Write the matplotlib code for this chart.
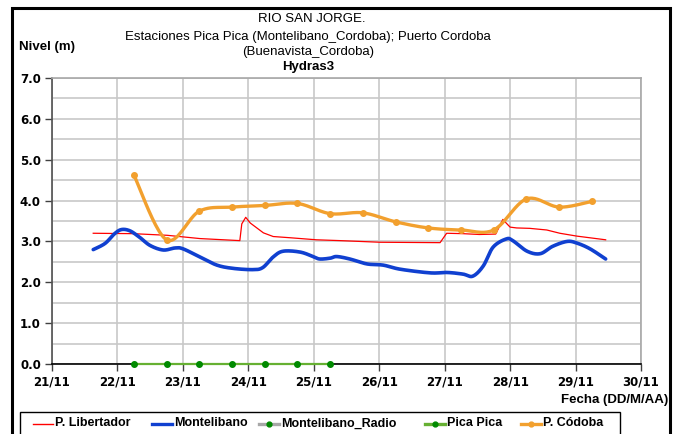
import numpy as np
import matplotlib
matplotlib.use("Agg")
import matplotlib.pyplot as plt
from matplotlib.lines import Line2D
from matplotlib.patches import Rectangle

# ---- data (days counted from 21/11 00:00) ----
day_labels = ["21/11", "22/11", "23/11", "24/11", "25/11",
              "26/11", "27/11", "28/11", "29/11", "30/11"]

libertador_t = [0.63, 1.24, 1.76, 2.26, 2.87, 2.90, 2.96, 3.03, 3.13, 3.23,
                3.38, 3.64, 4.04, 4.40, 5.01, 5.93, 6.03, 6.28, 6.53, 6.78,
                6.89, 6.94, 7.00, 7.10, 7.30, 7.56, 7.76, 8.02, 8.46]
libertador_v = [3.20, 3.19, 3.15, 3.07, 3.02, 3.43, 3.59, 3.45, 3.33, 3.21,
                3.12, 3.09, 3.04, 3.02, 2.98, 2.97, 3.20, 3.19, 3.17, 3.18,
                3.54, 3.45, 3.35, 3.33, 3.32, 3.28, 3.20, 3.13, 3.04]

montelibano_t = [0.63, 0.81, 0.95, 1.06, 1.19, 1.34, 1.50, 1.70, 1.88, 2.00,
                 2.26, 2.52, 2.77, 3.07, 3.22, 3.38, 3.53, 3.79, 3.99, 4.09,
                 4.25, 4.35, 4.55, 4.81, 5.06, 5.32, 5.78, 6.04, 6.28, 6.43,
                 6.59, 6.74, 6.94, 7.04, 7.26, 7.46, 7.65, 7.87, 8.02, 8.22,
                 8.46]
montelibano_v = [2.80, 2.95, 3.18, 3.29, 3.26, 3.10, 2.90, 2.79, 2.84, 2.82,
                 2.62, 2.42, 2.34, 2.31, 2.36, 2.62, 2.76, 2.74, 2.63, 2.57,
                 2.59, 2.63, 2.57, 2.45, 2.42, 2.32, 2.23, 2.24, 2.20, 2.15,
                 2.40, 2.86, 3.06, 3.02, 2.76, 2.70, 2.88, 3.00, 2.96, 2.82,
                 2.57]

cordoba_t = [1.25, 1.75, 2.25, 2.75, 3.25, 3.75, 4.25, 4.75,
             5.25, 5.75, 6.25, 6.75, 7.25, 7.75, 8.25]
cordoba_v = [4.63, 3.04, 3.74, 3.84, 3.88, 3.93, 3.68, 3.70,
             3.48, 3.33, 3.28, 3.28, 4.04, 3.84, 3.98]

picapica_t = [1.25, 1.75, 2.25, 2.75, 3.25, 3.75, 4.25]
picapica_v = [0.0, 0.0, 0.0, 0.0, 0.0, 0.0, 0.0]

# ---- styling ----
C_RED = "#FF0000"
C_BLUE = "#1040D0"
C_ORANGE = "#F2A02E"
C_GREEN_LINE = "#66B032"
C_GREEN_DOT = "#008A00"
C_GREY = "#A8A8A8"
BOLD_FONT = dict(family=["Liberation Sans", "DejaVu Sans"], weight="bold")
TEXT_FONT = dict(family=["Liberation Sans", "DejaVu Sans"])


def bezier_smooth(xs, ys, n=24):
    """Smoothed line through the points (cubic Bezier, 1/6 tangents)."""
    p = np.column_stack([xs, ys]).astype(float)
    ext = np.vstack([p[0], p, p[-1]])
    t = np.linspace(0.0, 1.0, n)[:, None]
    parts = []
    for i in range(len(p) - 1):
        p0, p1, p2, p3 = ext[i], ext[i + 1], ext[i + 2], ext[i + 3]
        c1 = p1 + (p2 - p0) / 6.0
        c2 = p2 - (p3 - p1) / 6.0
        seg = ((1 - t) ** 3) * p1 + 3 * ((1 - t) ** 2) * t * c1 \
            + 3 * (1 - t) * t ** 2 * c2 + t ** 3 * p2
        parts.append(seg if i == 0 else seg[1:])
    s = np.vstack(parts)
    return s[:, 0], s[:, 1]


W, H = 677, 434
fig = plt.figure(figsize=(W / 100, H / 100), dpi=100)
fig.patch.set_facecolor("white")

ax = fig.add_axes([52 / W, 1 - 364 / H, (641 - 52) / W, (364 - 78) / H])
ax.set_xlim(0, 9)
ax.set_ylim(0, 7)

# grid
ax.set_xticks(np.arange(0, 10))
ax.set_xticklabels(day_labels)
ax.set_yticks(np.arange(0, 8))
ax.set_yticklabels([f"{v:.1f}" for v in range(8)])
ax.set_yticks(np.arange(0.5, 7, 1.0), minor=True)
ax.grid(True, which="both", color="#C8C8C8", linewidth=1.2, zorder=0)
ax.tick_params(axis="y", which="minor", length=0)
ax.tick_params(axis="both", which="major", direction="out", length=5,
               width=1, color="#404040", pad=3)
for lab in ax.get_xticklabels() + ax.get_yticklabels():
    lab.set_fontfamily("DejaVu Sans")
    lab.set_fontweight("bold")
    lab.set_fontsize(8.5)
ax.set_axisbelow(True)

for side in ("top", "right"):
    ax.spines[side].set_color("#A8A8A8")
    ax.spines[side].set_linewidth(1.2)
ax.spines["left"].set_color("#505050")
ax.spines["left"].set_linewidth(1.2)
ax.spines["bottom"].set_color("#000000")
ax.spines["bottom"].set_linewidth(1.2)

# series
ax.plot(libertador_t, libertador_v, color=C_RED, linewidth=0.9, zorder=3)

bx, by = bezier_smooth(montelibano_t, montelibano_v)
ax.plot(bx, by, color=C_BLUE, linewidth=2.6, solid_capstyle="round", zorder=4)

ox, oy = bezier_smooth(cordoba_t, cordoba_v)
ax.plot(ox, oy, color=C_ORANGE, linewidth=2.4, solid_capstyle="round", zorder=5)
ax.plot(cordoba_t, cordoba_v, linestyle="none", marker="o", markersize=4,
        color=C_ORANGE, zorder=6)

ax.plot(picapica_t, picapica_v, color=C_GREEN_LINE, linewidth=1.6,
        marker="o", markersize=4, markerfacecolor=C_GREEN_DOT,
        markeredgecolor=C_GREEN_DOT, clip_on=False, zorder=6)

# titles and axis captions
fig.text(312 / W, 1 - 19 / H, "RIO SAN JORGE.", ha="center", va="center",
         fontsize=9.5, **TEXT_FONT)
fig.text(308 / W, 1 - 37 / H,
         "Estaciones Pica Pica (Montelibano_Cordoba); Puerto Cordoba",
         ha="center", va="center", fontsize=9.5, **TEXT_FONT)
fig.text(308 / W, 1 - 52 / H, "(Buenavista_Cordoba)", ha="center",
         va="center", fontsize=9.5, **TEXT_FONT)
fig.text(308 / W, 1 - 67 / H, "Hydras3", ha="center", va="center",
         fontsize=9.5, **BOLD_FONT)
fig.text(19 / W, 1 - 47 / H, "Nivel (m)", ha="left", va="center",
         fontsize=9.5, **BOLD_FONT)
fig.text(668 / W, 1 - 400 / H, "Fecha (DD/M/AA)", ha="right", va="center",
         fontsize=9.5, **BOLD_FONT)

# legend
leg_y = 1 - 423.5 / H
fig.add_artist(Rectangle((20 / W, -0.05), (620 - 20) / W, leg_y + 0.05 + 12 / H,
                         transform=fig.transFigure, facecolor="none",
                         edgecolor="black", linewidth=1.0, clip_on=False))
legend_items = [
    ("P. Libertador", 33, dict(color=C_RED, linewidth=1.0), None),
    ("Montelibano", 152, dict(color=C_BLUE, linewidth=2.4), None),
    ("Montelibano_Radio", 259, dict(color=C_GREY, linewidth=2.4), C_GREEN_DOT),
    ("Pica Pica", 425, dict(color=C_GREEN_LINE, linewidth=2.4), C_GREEN_DOT),
    ("P. Códoba", 521, dict(color=C_ORANGE, linewidth=2.4), C_ORANGE),
]
for label, x0, style, dot in legend_items:
    fig.add_artist(Line2D([x0 / W, (x0 + 20) / W], [leg_y, leg_y],
                          transform=fig.transFigure, **style))
    if dot is not None:
        fig.add_artist(Line2D([(x0 + 10) / W], [leg_y], marker="o",
                              markersize=3.5, color=dot, linestyle="none",
                              transform=fig.transFigure))
    fig.text((x0 + 22) / W, leg_y, label, ha="left", va="center",
             fontsize=9, **BOLD_FONT)

# outer frame
fig.add_artist(Rectangle((12 / W, -0.05), (670 - 12) / W, 1 - 8 / H + 0.05,
                         transform=fig.transFigure, facecolor="none",
                         edgecolor="black", linewidth=2.2, clip_on=False))

fig.savefig("out.png", dpi=100)
